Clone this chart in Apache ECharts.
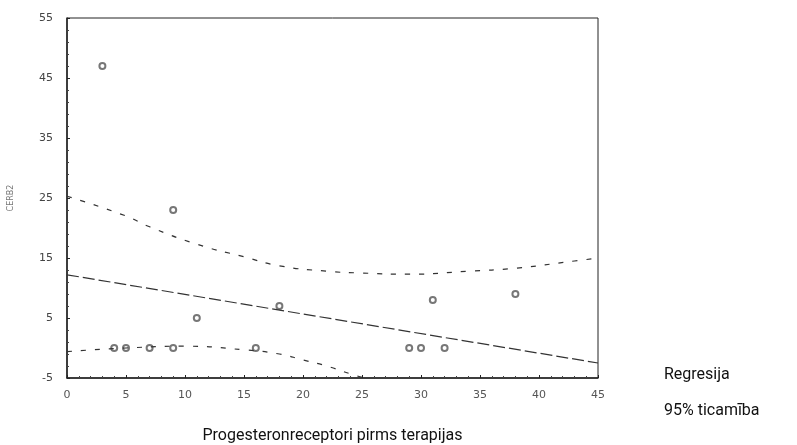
<!DOCTYPE html>
<html>
<head>
<meta charset="utf-8">
<script src="https://cdn.jsdelivr.net/npm/echarts@6/dist/echarts.min.js"></script>
<style>
html,body{margin:0;padding:0;background:#fff;}
#c{width:797px;height:445px;}
</style>
</head>
<body>
<div id="c"></div>
<script>
// Data
var pointsX = [3, 9, 11, 18, 31, 38, 4, 5, 7, 9, 16, 29, 30, 32];
var pointsY = [47, 23, 5, 7, 8, 9, 0, 0, 0, 0, 0, 0, 0, 0];
var regX = [0, 45];
var regY = [12.2, -2.5];
var upperX = [0, 5, 7, 11, 15, 18, 22, 25, 29, 34, 38, 43, 45];
var upperY = [25.3, 22, 20.2, 17.3, 15.2, 13.7, 12.8, 12.5, 12.3, 12.8, 13.3, 14.5, 15];
var lowerX = [0, 5, 10, 15, 18, 20, 22, 24, 26, 28];
var lowerY = [-0.6, 0, 0.3, -0.3, -1, -2, -3, -4.3, -5.5, -7];
var xTicks = {min: 0, max: 45, interval: 5};
var yTicks = {min: -5, max: 55, interval: 10};
var xName = 'Progesteronreceptori pirms terapijas';
var yName = 'CERB2';
var legendNames = ['Regresija', '95% ticamība'];

function zip(a, b) { return a.map(function (v, i) { return [v, b[i]]; }); }

var chart = echarts.init(document.getElementById('c'));
chart.setOption({
  animation: false,
  backgroundColor: '#fff',
  grid: {left: 67, right: 199, top: 18, bottom: 67, outerBoundsMode: 'none', containLabel: false,
         show: true, borderColor: '#222', borderWidth: 1},
  legend: {
    orient: 'vertical', left: 628, top: 362, itemGap: 20,
    itemWidth: 18, itemHeight: 8,
    textStyle: {fontFamily: 'Roboto', fontSize: 16, color: '#111', padding: [0, 0, 0, 8]},
    data: [
      {name: legendNames[0], icon: 'path://M0,0L10,2L20,4', itemStyle: {color: '#aaa'}},
      {name: legendNames[1], icon: 'none'}
    ]
  },
  xAxis: {
    type: 'value', min: xTicks.min, max: xTicks.max, interval: xTicks.interval,
    name: xName, nameLocation: 'middle', nameGap: 50,
    nameTextStyle: {fontFamily: 'Roboto', fontSize: 16, color: '#111'},
    axisLine: {show: true, onZero: false, lineStyle: {color: '#222', width: 1.5}},
    axisTick: {show: true, inside: true, length: 3, lineStyle: {color: '#222'}},
    minorTick: {show: true, splitNumber: 5, length: 2, lineStyle: {color: '#444'}},
    axisLabel: {fontFamily: 'DejaVu Sans', fontSize: 11, color: '#555', margin: 12},
    splitLine: {show: false}
  },
  yAxis: {
    type: 'value', min: yTicks.min, max: yTicks.max, interval: yTicks.interval,
    name: yName, nameLocation: 'middle', nameGap: 52, nameRotate: 90,
    nameTextStyle: {fontFamily: 'DejaVu Sans', fontSize: 8, color: '#777'},
    axisLine: {show: true, onZero: false, lineStyle: {color: '#222', width: 1.5}},
    axisTick: {show: true, inside: true, length: 3, lineStyle: {color: '#222'}},
    minorTick: {show: true, splitNumber: 5, length: 2, lineStyle: {color: '#444'}},
    axisLabel: {fontFamily: 'DejaVu Sans', fontSize: 11, color: '#444', margin: 14},
    splitLine: {show: false}
  },
  series: [
    {
      name: legendNames[0], type: 'line', data: zip(regX, regY), showSymbol: false,
      lineStyle: {color: '#333', width: 1.2, type: [12, 4]}, clip: true
    },
    {
      name: legendNames[1], type: 'line', data: zip(upperX, upperY), showSymbol: false, smooth: true,
      lineStyle: {color: '#333', width: 1.2, type: [5, 9]}, clip: true
    },
    {
      name: legendNames[1], type: 'line', data: zip(lowerX, lowerY), showSymbol: false, smooth: true,
      lineStyle: {color: '#333', width: 1.2, type: [5, 9]}, clip: true
    },
    {
      name: 'data', type: 'scatter', data: zip(pointsX, pointsY), symbol: 'emptyCircle', symbolSize: 6,
      itemStyle: {color: '#555', borderColor: '#555', borderWidth: 0.8}
    }
  ]
});
</script>
</body>
</html>
